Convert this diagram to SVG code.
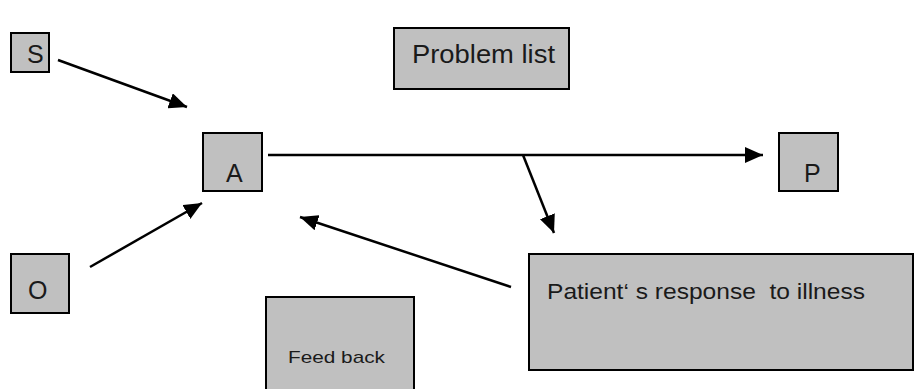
<svg xmlns="http://www.w3.org/2000/svg" width="914" height="389" viewBox="0 0 914 389">
<style>
.box{fill:#c0c0c0;stroke:#000;stroke-width:2}
.t{font-family:"Liberation Sans",Arial,sans-serif;fill:#1a1a1a;white-space:pre}
.c{stroke:#000;stroke-width:2.5;fill:none;marker-end:url(#ah)}
</style>
<defs>
<marker id="ah" markerUnits="userSpaceOnUse" markerWidth="20" markerHeight="16" refX="18" refY="8" orient="auto">
<path d="M0,0 L18,8 L0,16 z" fill="#000"/>
</marker>
</defs>
<rect width="914" height="389" fill="#fff"/>
<g id="S"><rect class="box" x="11" y="33" width="38" height="39"/><text class="t" x="27" y="63" font-size="25">S</text></g>
<g id="problem-list"><rect class="box" x="394" y="28" width="175" height="61"/><text class="t" x="412" y="63" font-size="26" textLength="143" lengthAdjust="spacingAndGlyphs">Problem list</text></g>
<g id="A"><rect class="box" x="203" y="133" width="59" height="58"/><text class="t" x="226" y="182" font-size="25">A</text></g>
<g id="P"><rect class="box" x="779" y="133" width="59" height="58"/><text class="t" x="804" y="182" font-size="25">P</text></g>
<g id="O"><rect class="box" x="11" y="254" width="58" height="59"/><text class="t" x="28" y="299" font-size="25">O</text></g>
<g id="feedback"><rect class="box" x="266" y="297" width="148" height="100"/><text class="t" x="288" y="363" font-size="17" textLength="97" lengthAdjust="spacingAndGlyphs">Feed back</text></g>
<g id="response"><rect class="box" x="529" y="254" width="384" height="116"/><text class="t" x="547" y="299" font-size="22" textLength="318" lengthAdjust="spacingAndGlyphs" xml:space="preserve">Patient‘ s response  to illness</text></g>
<g id="connectors">
<line class="c" x1="58" y1="60" x2="187" y2="107"/>
<line class="c" x1="90" y1="267" x2="202" y2="203"/>
<line class="c" x1="268" y1="155" x2="763" y2="155"/>
<line class="c" x1="523" y1="155" x2="554" y2="233"/>
<line class="c" x1="511" y1="287" x2="300" y2="217"/>
</g>
</svg>
